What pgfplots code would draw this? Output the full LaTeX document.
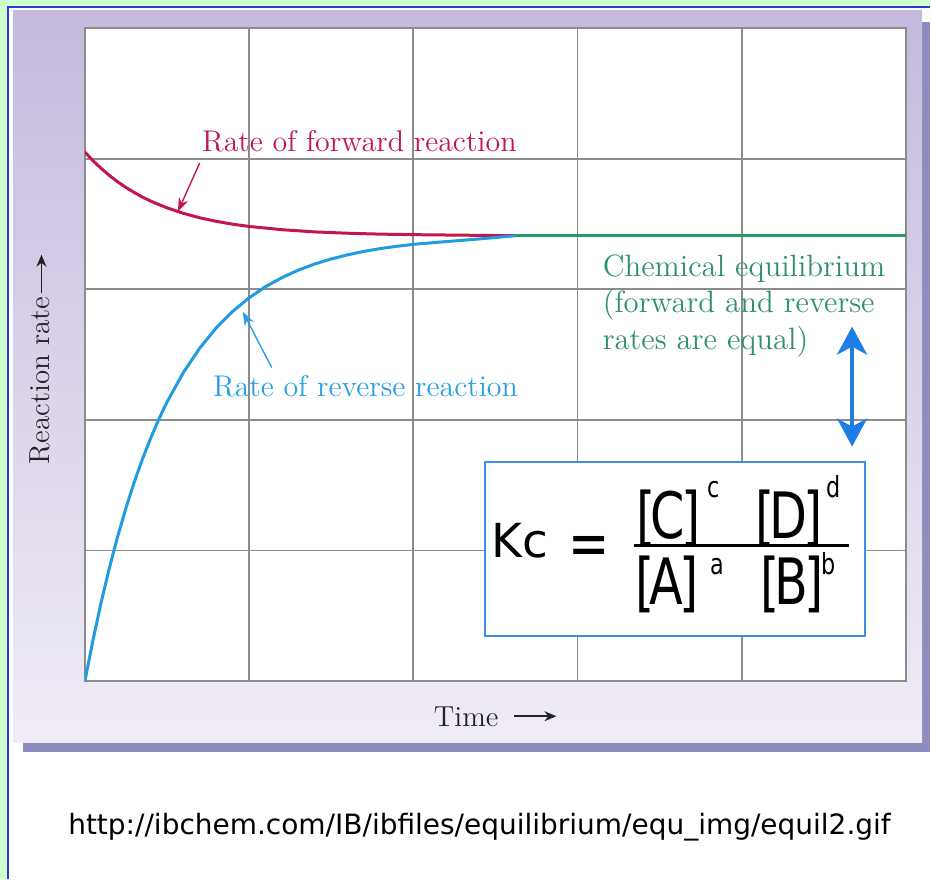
\documentclass[border=0pt]{standalone}
\usepackage{pgfplots}
\pgfplotsset{compat=1.18}
\usepackage{fontspec}
\usetikzlibrary{arrows.meta}
\newfontfamily\dejavu{DejaVu Sans}
\definecolor{bggreen}{RGB}{204,255,204}
\definecolor{slideblue}{RGB}{50,50,225}
\definecolor{shadowc}{RGB}{140,140,190}
\definecolor{paneltop}{RGB}{196,186,220}
\definecolor{panelmid}{RGB}{224,216,236}
\definecolor{panelbot}{RGB}{240,236,246}
\definecolor{fwd}{RGB}{196,22,78}
\definecolor{rev}{RGB}{32,156,224}
\definecolor{revtext}{RGB}{40,160,228}
\definecolor{eqgreen}{RGB}{40,150,100}
\definecolor{eqtext}{RGB}{46,145,105}
\definecolor{dblblue}{RGB}{30,125,230}
\definecolor{boxblue}{RGB}{60,142,232}
\definecolor{gridc}{RGB}{140,140,140}
\definecolor{txt}{RGB}{35,35,35}
\newcommand{\lab}{\fontsize{14.5}{18.5}\selectfont}
\newcommand{\kfbig}{\dejavu\fontsize{32}{34}\selectfont}
\newcommand{\kfmid}{\dejavu\fontsize{23.5}{26}\selectfont}
\newcommand{\kfsup}{\dejavu\fontsize{14.5}{15}\selectfont}
\newcommand{\sq}[1]{\scalebox{0.77}[1]{#1}}
\begin{document}
\begin{tikzpicture}
% slide background
\fill[bggreen] (0pt,0pt) rectangle (465.5pt,440pt);
\fill[white] (4pt,0pt) rectangle (465.5pt,436.5pt);
\draw[slideblue, line width=1pt] (4pt,0pt) -- (4pt,436.5pt) -- (465.5pt,436.5pt);
% panel shadow and panel
\fill[shadowc] (11.5pt,63.5pt) rectangle (465.5pt,429pt);
\shade[top color=paneltop, middle color=panelmid, bottom color=panelbot] (6.5pt,68.5pt) rectangle (461.5pt,434.5pt);
\begin{axis}[
  at={(42.5pt,99pt)}, anchor=south west,
  scale only axis, width=411pt, height=327pt,
  xmin=0, xmax=5, ymin=0, ymax=5,
  xtick={0,1,2,3,4,5}, ytick={0,1,2,3,4,5},
  xticklabels={}, yticklabels={},
  major tick length=0pt,
  grid=major,
  grid style={line width=0.9pt, color=gridc},
  axis line style={line width=0.9pt, color=gridc},
  axis background/.style={fill=white},
]
\addplot[fwd, line width=1.5pt, line join=round] coordinates {
 (0,4.05) (0.05,3.983) (0.1,3.924) (0.15,3.870) (0.2,3.822) (0.25,3.779)
 (0.3,3.741) (0.35,3.706) (0.4,3.675) (0.5,3.623) (0.6,3.581) (0.7,3.547)
 (0.8,3.520) (0.9,3.498) (1.0,3.481) (1.2,3.456) (1.4,3.439) (1.6,3.429)
 (1.8,3.422) (2.0,3.418) (2.3,3.414) (2.62,3.41)};
\addplot[rev, line width=1.5pt, line join=round] coordinates {
 (0,0) (0.05,0.320) (0.1,0.610) (0.15,0.872) (0.2,1.110) (0.25,1.326)
 (0.3,1.522) (0.35,1.699) (0.4,1.859) (0.45,2.005) (0.5,2.137) (0.6,2.364)
 (0.7,2.551) (0.8,2.705) (0.9,2.831) (1.0,2.935) (1.1,3.020) (1.2,3.089)
 (1.3,3.147) (1.4,3.194) (1.5,3.232) (1.6,3.264) (1.7,3.290) (1.8,3.312)
 (1.9,3.329) (2.0,3.344) (2.2,3.365) (2.4,3.385) (2.62,3.41)};
\addplot[eqgreen, line width=1.5pt] coordinates {(2.62,3.41) (5,3.41)};
\end{axis}
% axis labels
\node[rotate=90, anchor=base west, inner sep=0pt, text=txt] at (25pt,207.5pt) {\lab Reaction rate};
\draw[txt, line width=0.8pt, -{Stealth[length=6pt,width=5pt]}] (20.75pt,293.5pt) -- (20.75pt,312.5pt);
\node[anchor=base west, inner sep=0pt, text=txt] at (217pt,76.5pt) {\lab Time};
\draw[txt, line width=0.8pt, -{Stealth[length=6pt,width=5pt]}] (257.5pt,81.5pt) -- (278.5pt,81.5pt);
% curve labels
\node[anchor=base west, inner sep=0pt, text=fwd] at (101pt,364pt) {\scalebox{1.035}{\lab Rate of forward reaction}};
\draw[fwd, line width=0.7pt, -{Stealth[length=7pt,width=5pt]}] (100pt,358.5pt) -- (89pt,334pt);
\node[anchor=base west, inner sep=0pt, text=revtext] at (106.5pt,241.5pt) {\scalebox{1.035}{\lab Rate of reverse reaction}};
\draw[revtext, line width=0.7pt, -{Stealth[length=7pt,width=5pt]}] (136pt,256pt) -- (121.5pt,284pt);
\node[anchor=base west, inner sep=0pt, text=eqtext] at (301.5pt,301.5pt) {\scalebox{1.064}{\lab Chemical equilibrium}};
\node[anchor=base west, inner sep=0pt, text=eqtext] at (301.5pt,283.5pt) {\scalebox{1.064}{\lab (forward and reverse}};
\node[anchor=base west, inner sep=0pt, text=eqtext] at (301.5pt,265pt) {\scalebox{1.064}{\lab rates are equal)}};
\draw[dblblue, line width=2pt, {Stealth[length=14pt,width=15pt,inset=4pt]}-{Stealth[length=14pt,width=15pt,inset=4pt]}] (426.5pt,216.5pt) -- (426.5pt,276.5pt);
% Kc box
\filldraw[fill=white, draw=boxblue, line width=1pt] (243pt,121.5pt) rectangle (433pt,208.5pt);
\node[anchor=base west, inner sep=0pt] at (246pt,161pt) {\kfmid Kc};
\node[anchor=base west, inner sep=0pt] at (284.6pt,157pt) {\sq{\kfbig =}};
\draw[black, line width=1.5pt] (317.5pt,166.75pt) -- (425pt,166.75pt);
\node[anchor=base west, inner sep=0pt] at (318.3pt,170.5pt) {\sq{\kfbig [\kern-0.1em C\kern-0.07em]}};
\node[anchor=base west, inner sep=0pt] at (354pt,191pt) {\sq{\kfsup c}};
\node[anchor=base west, inner sep=0pt] at (377.8pt,170.5pt) {\sq{\kfbig [\kern-0.1em D\kern-0.07em]}};
\node[anchor=base west, inner sep=0pt] at (413.5pt,191pt) {\sq{\kfsup d}};
\node[anchor=base west, inner sep=0pt] at (317.8pt,137.5pt) {\sq{\kfbig [\kern-0.1em A\kern-0.07em]}};
\node[anchor=base west, inner sep=0pt] at (355.5pt,152.5pt) {\sq{\kfsup a}};
\node[anchor=base west, inner sep=0pt] at (380.3pt,137.5pt) {\sq{\kfbig [\kern-0.1em B\kern-0.07em]}};
\node[anchor=base west, inner sep=0pt] at (411pt,152.5pt) {\sq{\kfsup b}};
% source
\node[anchor=base, inner sep=0pt, text=black] at (240pt,22.5pt) {\dejavu\fontsize{14}{16}\selectfont http://ibchem.com/IB/ibfiles/equilibrium/equ\_img/equil2.gif};
\end{tikzpicture}
\end{document}
